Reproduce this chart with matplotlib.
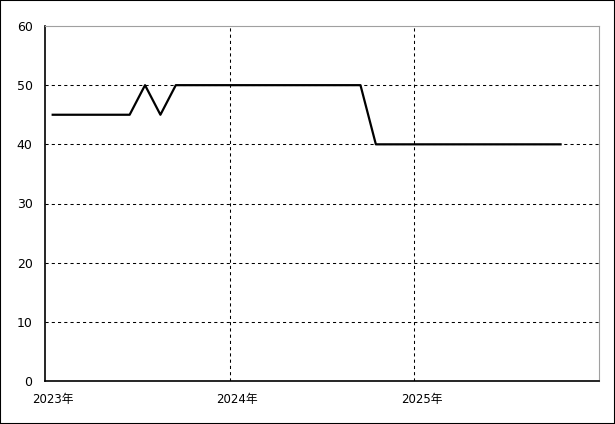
import matplotlib.pyplot as plt

# monthly values, 2023-01 .. 2025-10
values = [45, 45, 45, 45, 45, 45, 50, 45, 50, 50, 50, 50,
          50, 50, 50, 50, 50, 50, 50, 50, 50, 40, 40, 40,
          40, 40, 40, 40, 40, 40, 40, 40, 40, 40]
n_months = 36  # axis spans 2023-01 .. 2025-12
year_labels = ['2023年', '2024年', '2025年']
y_ticks = [0, 10, 20, 30, 40, 50, 60]

fig = plt.figure(figsize=(6.15, 4.24), dpi=100)
fig.patches.append(plt.Rectangle((0, 0), 1, 1, transform=fig.transFigure,
                                 fill=False, edgecolor='black', linewidth=1.5))
ax = fig.add_axes([45 / 615, 43 / 424, 554 / 615, 355 / 424])

x = [i + 0.5 for i in range(len(values))]
ax.plot(x, values, color='black', linewidth=1.6)

ax.set_xlim(0, n_months)
ax.set_ylim(0, 60)

# gridlines at year starts, labels in the middle of January
ax.set_xticks([0, 12, 24])
ax.set_xticklabels([])
ax.set_xticks([0.5, 12.5, 24.5], minor=True)
ax.set_xticklabels(year_labels, minor=True,
                   family=['DejaVu Sans', 'Noto Sans CJK JP'], fontsize=8.5)
ax.set_yticks(y_ticks)
ax.set_yticklabels([str(v) for v in y_ticks], fontsize=9)
ax.tick_params(axis='both', which='both', length=0)
ax.tick_params(axis='x', which='minor', pad=9)
ax.tick_params(axis='y', pad=9)

ax.grid(True, which='major', color='black', linestyle=(0, (3, 3)), linewidth=0.75)
# no gridlines on the frame edges
ax.xaxis.get_gridlines()[0].set_visible(False)
ax.yaxis.get_gridlines()[0].set_visible(False)
ax.yaxis.get_gridlines()[-1].set_visible(False)
for side in ['top', 'right']:
    ax.spines[side].set_color('#a0a0a0')
for side in ['left', 'bottom']:
    ax.spines[side].set_color('black')
    ax.spines[side].set_linewidth(1.2)

fig.savefig('out.png', dpi=100)
